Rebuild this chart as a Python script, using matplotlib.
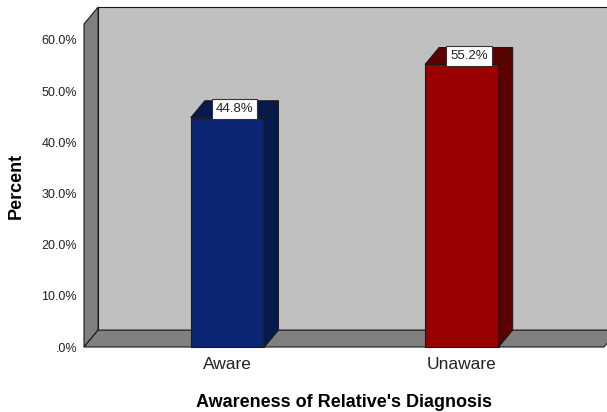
import matplotlib.pyplot as plt
from matplotlib.patches import Polygon

categories = ["Aware", "Unaware"]
percent = [44.8, 55.2]
value_labels = ["44.8%", "55.2%"]
yticks = [0, 10, 20, 30, 40, 50, 60]
ytick_labels = [".0%", "10.0%", "20.0%", "30.0%", "40.0%", "50.0%", "60.0%"]

front_colors = ["#0b2672", "#990000"]
shade_colors = ["#071a4e", "#5c0000"]

plt.rcParams["font.family"] = ["Liberation Sans", "DejaVu Sans"]

# plot box limits and 3d depth offset (data units)
xl, xr = -0.613, 1.607
ytop = 63.1
dx, dy = 0.06, 3.3
bw = 0.314
edge = "#1a1a1a"


def box3d(ax, x, h, fc, sc):
    x0, x1 = x - bw / 2, x + bw / 2
    ax.add_patch(Polygon([(x0, 0), (x1, 0), (x1, h), (x0, h)],
                         fc=fc, ec=edge, lw=0.8, clip_on=False, zorder=3))
    ax.add_patch(Polygon([(x0, h), (x1, h), (x1 + dx, h + dy), (x0 + dx, h + dy)],
                         fc=sc, ec=edge, lw=0.8, clip_on=False, zorder=3))
    ax.add_patch(Polygon([(x1, 0), (x1 + dx, dy), (x1 + dx, h + dy), (x1, h)],
                         fc=sc, ec=edge, lw=0.8, clip_on=False, zorder=3))


fig = plt.figure(figsize=(6.07, 4.12), dpi=100)
ax = fig.add_axes([84 / 607, 65 / 412, 520 / 607, 323 / 412])
ax.set_xlim(xl, xr)
ax.set_ylim(0, ytop)

# back wall, left wall, floor
ax.add_patch(Polygon([(xl + dx, dy), (xr + dx, dy), (xr + dx, ytop + dy), (xl + dx, ytop + dy)],
                     fc="#c0c0c0", ec=edge, lw=0.8, clip_on=False, zorder=1))
ax.add_patch(Polygon([(xl, 0), (xl, ytop), (xl + dx, ytop + dy), (xl + dx, dy)],
                     fc="#808080", ec=edge, lw=0.8, clip_on=False, zorder=2))
ax.add_patch(Polygon([(xl, 0), (xr, 0), (xr + dx, dy), (xl + dx, dy)],
                     fc="#808080", ec=edge, lw=0.8, clip_on=False, zorder=2))

for i, (v, lab) in enumerate(zip(percent, value_labels)):
    box3d(ax, i, v, front_colors[i], shade_colors[i])
    ax.text(i + dx / 2, v + 0.5, lab, ha="center", va="bottom", fontsize=9.5,
            color="#222222", zorder=5,
            bbox=dict(boxstyle="square,pad=0.3", fc="white", ec="#333333", lw=0.8))

for s in ax.spines.values():
    s.set_visible(False)
ax.set_facecolor("none")
ax.set_yticks(yticks)
ax.set_yticklabels(ytick_labels, fontsize=9, color="#222222")
ax.set_xticks(range(len(categories)))
ax.set_xticklabels(categories, fontsize=12.5, color="#222222")
ax.tick_params(axis="y", length=0, pad=5)
ax.tick_params(axis="x", length=0, pad=7)
ax.set_xlabel("Awareness of Relative's Diagnosis", fontsize=13, fontweight="bold", labelpad=16)
ax.set_ylabel("Percent", fontsize=13, fontweight="bold", labelpad=12)

fig.savefig("out.png", dpi=100)
